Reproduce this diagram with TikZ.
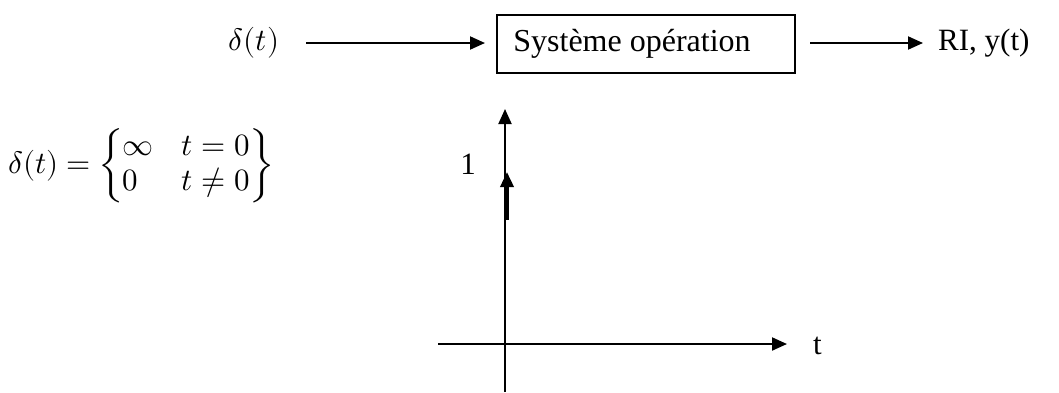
\documentclass[tikz,border=0pt]{standalone}
\usepackage{amsmath}
\usepackage{fontspec}
\usepackage{unicode-math}
\setmainfont{Liberation Serif}
\setmathfont{Latin Modern Math}
\usetikzlibrary{arrows.meta}
\tikzset{
  conn/.style={line width=2pt,-{Triangle[length=15pt,width=13pt]}},
  lbl/.style={inner sep=0pt,font=\fontsize{31}{36}\selectfont},
  mth/.style={inner sep=0pt,font=\fontsize{31}{37}\selectfont},
  block/.style={draw,line width=1.6pt,minimum width=298pt,minimum height=58pt,inner sep=0pt,font=\fontsize{32}{36}\selectfont}
}
\begin{document}
\begin{tikzpicture}[x=1pt,y=1pt]
\useasboundingbox (0,0) rectangle (1059,-392);
% top chain
\node[mth] (in) at (254,-43) {$\delta(t)$};
\node[block] (sys) at (646,-44) {Système opération\kern28pt\relax};
\node[lbl,anchor=west] (out) at (938,-43) {RI, y(t)};
\coordinate (a1s) at (306,-43);
\coordinate (a1e) at (485,-43);
\draw[conn] (a1s) -- (a1e);
\coordinate (a2s) at (810,-43);
\coordinate (a2e) at (923,-43);
\draw[conn] (a2s) -- (a2e);
% formula
\node[mth,anchor=west] (def) at (8,-166) {$\delta(t)=\left\{\begin{array}{@{}l@{\hspace{28pt}}r@{}}\infty & t=0\\[-2pt] 0 & t\neq 0\end{array}\right\}$};
% axes
\coordinate (yb) at (505,-392);
\coordinate (yt) at (505,-109);
\draw[conn] (yb) -- (yt);
\coordinate (xl) at (438,-344);
\coordinate (xr) at (787,-344);
\draw[conn] (xl) -- (xr);
\node[lbl,anchor=west] (tl) at (813,-346) {t};
% impulse
\coordinate (ib) at (507,-220);
\coordinate (it) at (507,-172);
\draw[line width=3.5pt,-{Triangle[length=15pt,width=13pt]}] (ib) -- (it);
\node[lbl] (one) at (468,-164) {1};
\end{tikzpicture}
\end{document}
